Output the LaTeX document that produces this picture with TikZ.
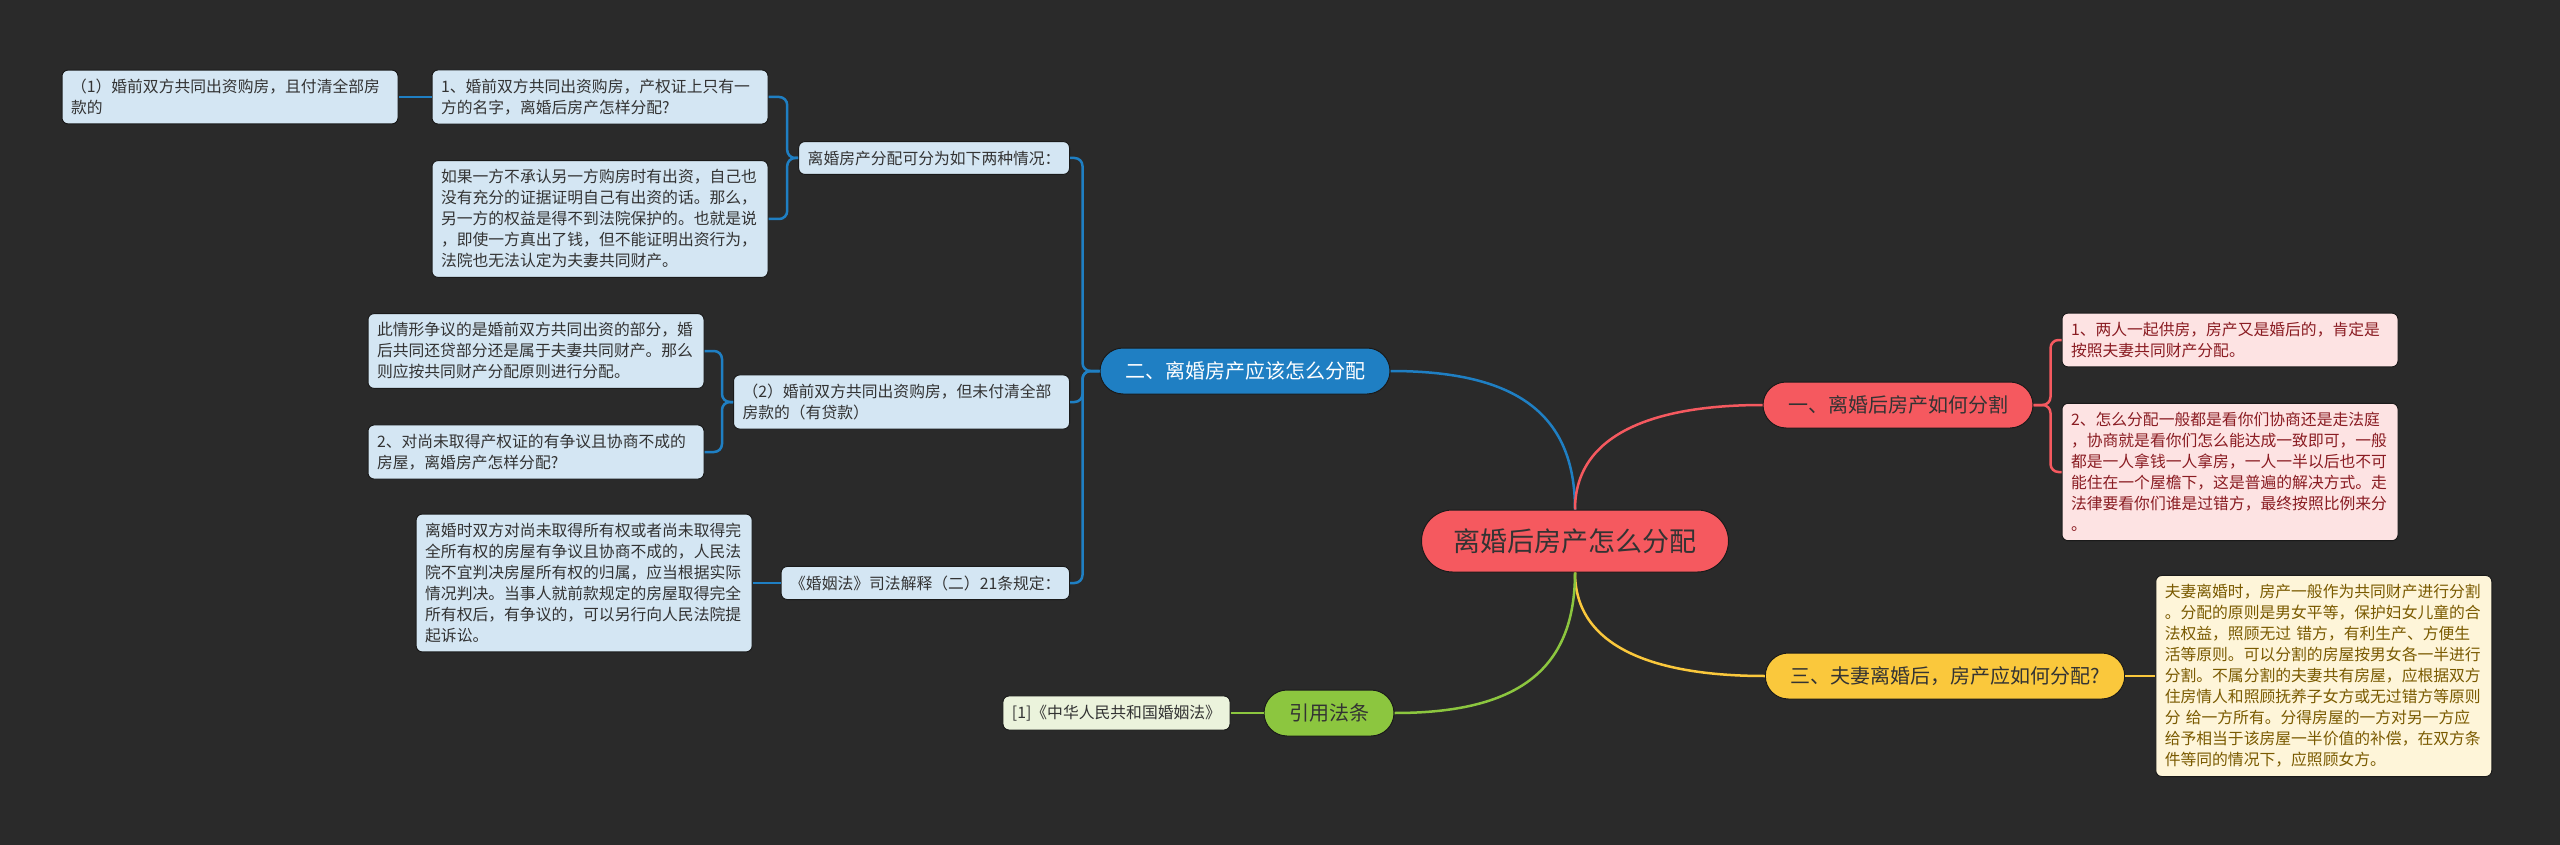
\documentclass[tikz,border=0pt]{standalone}
\usepackage{fontspec}
\setmainfont{Noto Sans CJK SC}
\usepackage{tikz}
\usetikzlibrary{positioning}
\usepackage{xcolor}
\definecolor{bgdark}{HTML}{2A2A2A}
\definecolor{edgedark}{HTML}{1A1A1A}
\definecolor{rootred}{HTML}{F5595F}
\definecolor{topicblue}{HTML}{1F7FC3}
\definecolor{topicyellow}{HTML}{FAC83C}
\definecolor{topicgreen}{HTML}{8CC63F}
\definecolor{leafblue}{HTML}{D4E6F3}
\definecolor{leafred}{HTML}{FDE3E3}
\definecolor{leafyellow}{HTML}{FEF5D9}
\definecolor{leafgreen}{HTML}{EBF3DC}
\definecolor{textdark}{HTML}{333333}
\definecolor{textred}{HTML}{8A1C22}
\definecolor{textgold}{HTML}{7A5A00}

\begin{document}
\begin{tikzpicture}[x=1pt, y=-1pt,
  box/.style={draw=edgedark, line width=1pt, rounded corners=6pt, align=left, inner xsep=9pt, inner ysep=9pt, text=textdark, font=\fontsize{15.8}{21}\selectfont},
  wide/.style={box, text width=318pt},
  topic/.style={draw=edgedark, line width=1pt, rounded corners=23pt, minimum height=46pt, inner xsep=25pt, text=textdark, font=\fontsize{20}{24}\selectfont},
  link/.style={line width=2.5pt}]
\path[use as bounding box, fill=bgdark] (0,0) rectangle (2560,845);

\node[topic, fill=rootred, minimum height=62pt, rounded corners=31pt, inner xsep=32pt, font=\fontsize{27}{30}\selectfont] (main) at (1575,541) {离婚后房产怎么分配};
\node[topic, fill=rootred] (howsplit) at (1898,405) {一、离婚后房产如何分割};
\node[topic, fill=topicblue, text=white] (howshare) at (1245,371) {二、离婚房产应该怎么分配};
\node[topic, fill=topicyellow] (afterdiv) at (1945,676) {三、夫妻离婚后，房产应如何分配?};
\node[topic, fill=topicgreen] (cite) at (1329,713) {引用法条};

\node[box, fill=leafblue, anchor=east] (twocase) at (1070,158) {离婚房产分配可分为如下两种情况：};
\node[wide, fill=leafblue, anchor=east] (loan) at (1070,402) {（2）婚前双方共同出资购房，但未付清全部\\房款的（有贷款）};
\node[box, fill=leafblue, anchor=east] (interp) at (1070,583) {《婚姻法》司法解释（二）21条规定：};

\node[wide, fill=leafblue] (onename) at (600,97) {1、婚前双方共同出资购房，产权证上只有一\\方的名字，离婚后房产怎样分配?};
\node[wide, fill=leafblue, left=33pt of onename] (paidfull) {（1）婚前双方共同出资购房，且付清全部房\\款的};
\node[wide, fill=leafblue] (noproof) at (600,219) {如果一方不承认另一方购房时有出资，自己也\\没有充分的证据证明自己有出资的话。那么，\\另一方的权益是得不到法院保护的。也就是说\\，即使一方真出了钱，但不能证明出资行为，\\法院也无法认定为夫妻共同财产。};
\node[wide, fill=leafblue] (repay) at (536,351) {此情形争议的是婚前双方共同出资的部分，婚\\后共同还贷部分还是属于夫妻共同财产。那么\\则应按共同财产分配原则进行分配。};
\node[wide, fill=leafblue] (nocert) at (536,452) {2、对尚未取得产权证的有争议且协商不成的\\房屋，离婚房产怎样分配?};
\node[wide, fill=leafblue, left=28pt of interp] (art21) {离婚时双方对尚未取得所有权或者尚未取得完\\全所有权的房屋有争议且协商不成的，人民法\\院不宜判决房屋所有权的归属，应当根据实际\\情况判决。当事人就前款规定的房屋取得完全\\所有权后，有争议的，可以另行向人民法院提\\起诉讼。};

\node[wide, fill=leafred, text=textred] (joint) at (2230,340) {1、两人一起供房，房产又是婚后的，肯定是\\按照夫妻共同财产分配。};
\node[wide, fill=leafred, text=textred] (negot) at (2230,472) {2、怎么分配一般都是看你们协商还是走法庭\\，协商就是看你们怎么能达成一致即可，一般\\都是一人拿钱一人拿房，一人一半以后也不可\\能住在一个屋檐下，这是普遍的解决方式。走\\法律要看你们谁是过错方，最终按照比例来分\\。};
\node[wide, fill=leafyellow, text=textgold, right=30pt of afterdiv] (principle) {夫妻离婚时，房产一般作为共同财产进行分割\\。分配的原则是男女平等，保护妇女儿童的合\\法权益，照顾无过 错方，有利生产、方便生\\活等原则。可以分割的房屋按男女各一半进行\\分割。不属分割的夫妻共有房屋，应根据双方\\住房情人和照顾抚养子女方或无过错方等原则\\分 给一方所有。分得房屋的一方对另一方应\\给予相当于该房屋一半价值的补偿，在双方条\\件等同的情况下，应照顾女方。};
\node[box, fill=leafgreen, left=33pt of cite] (marlaw) {[1]《中华人民共和国婚姻法》};

\draw[link, topicblue] (main.north) .. controls +(0,-100) and +(120,0) .. (howshare.east);
\draw[link, rootred] (main.north) .. controls +(0,-75) and +(-110,0) .. (howsplit.west);
\draw[link, topicyellow] (main.south) .. controls +(0,75) and +(-110,0) .. (afterdiv.west);
\draw[link, topicgreen] (main.south) .. controls +(0,100) and +(120,0) .. (cite.east);

\draw[link, topicblue, rounded corners=8pt] (howshare.west) -- ++(-17,0) |- (twocase.east);
\draw[link, topicblue, rounded corners=8pt] (howshare.west) -- ++(-17,0) |- (loan.east);
\draw[link, topicblue, rounded corners=8pt] (howshare.west) -- ++(-17,0) |- (interp.east);
\draw[link, topicblue, rounded corners=8pt] (twocase.west) -- ++(-11,0) |- (onename.east);
\draw[link, topicblue, rounded corners=8pt] (twocase.west) -- ++(-11,0) |- (noproof.east);
\draw[link, topicblue, rounded corners=8pt] (loan.west) -- ++(-11,0) |- (repay.east);
\draw[link, topicblue, rounded corners=8pt] (loan.west) -- ++(-11,0) |- (nocert.east);
\draw[link, topicblue] (onename) -- (paidfull);
\draw[link, topicblue] (interp) -- (art21);

\draw[link, rootred, rounded corners=8pt] (howsplit.east) -- ++(17,0) |- (joint.west);
\draw[link, rootred, rounded corners=8pt] (howsplit.east) -- ++(17,0) |- (negot.west);
\draw[link, topicyellow] (afterdiv) -- (principle);
\draw[link, topicgreen] (cite) -- (marlaw);
\end{tikzpicture}
\end{document}
